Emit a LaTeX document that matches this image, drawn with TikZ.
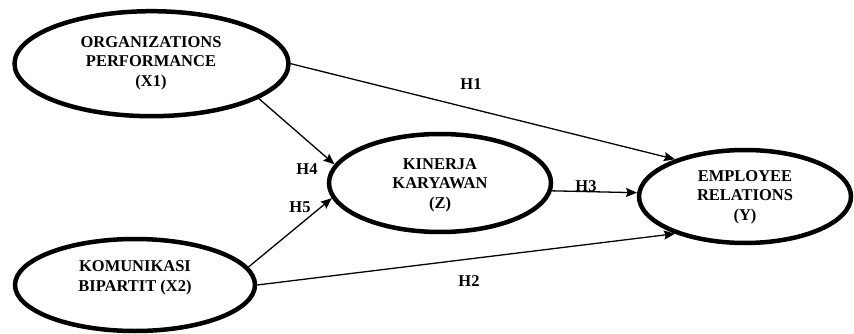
\documentclass[tikz,border=0pt]{standalone}
\usepackage{fontspec}
\setmainfont{Liberation Serif}[BoldFont={Liberation Serif Bold}]
\usetikzlibrary{shapes.geometric,arrows.meta}
\begin{document}
\begin{tikzpicture}[x=1pt,y=-1pt,
  ell/.style={ellipse,draw,line width=4.5pt,inner sep=0pt},
  txt/.style={align=center,font=\fontsize{16.5}{19.5}\selectfont\bfseries},
  conn/.style={line width=1.3pt,-{Stealth[length=11pt,width=9pt,inset=1.5pt]}}]
\useasboundingbox (0,0) rectangle (854,334);
\node[ell,minimum width=274pt,minimum height=105pt] (x1) at (151.5,63.7) {};
\node[ell,minimum width=240pt,minimum height=92pt] (x2) at (135,285) {};
\node[ell,minimum width=222pt,minimum height=98pt] (z) at (440,183) {};
\node[ell,minimum width=212pt,minimum height=93pt] (y) at (745,196.5) {};
\node[txt] (x1t) at (151,63) {ORGANIZATIONS\\PERFORMANCE\\(X1)};
\node[txt] (x2t) at (135,278) {KOMUNIKASI\\BIPARTIT (X2)};
\node[txt] (zt) at (440,185) {KINERJA\\KARYAWAN\\(Z)};
\node[txt] (yt) at (745,197) {EMPLOYEE\\RELATIONS\\(Y)};
\draw[conn] (x1.-0.5) -- (y.152);
\draw[conn] (x1.-18.8) -- (z.170.3);
\draw[conn] (x2.9.9) -- (z.-172.4);
\draw[conn] (x2.-0.9) -- (y.-152.2);
\draw[conn] (z.-4.6) -- (y.178.1);
\node[txt] (h1) at (471,84) {H1};
\node[txt] (h2) at (469,281) {H2};
\node[txt] (h3) at (586,186) {H3};
\node[txt] (h4) at (307,169) {H4};
\node[txt] (h5) at (300,207) {H5};
\end{tikzpicture}
\end{document}
